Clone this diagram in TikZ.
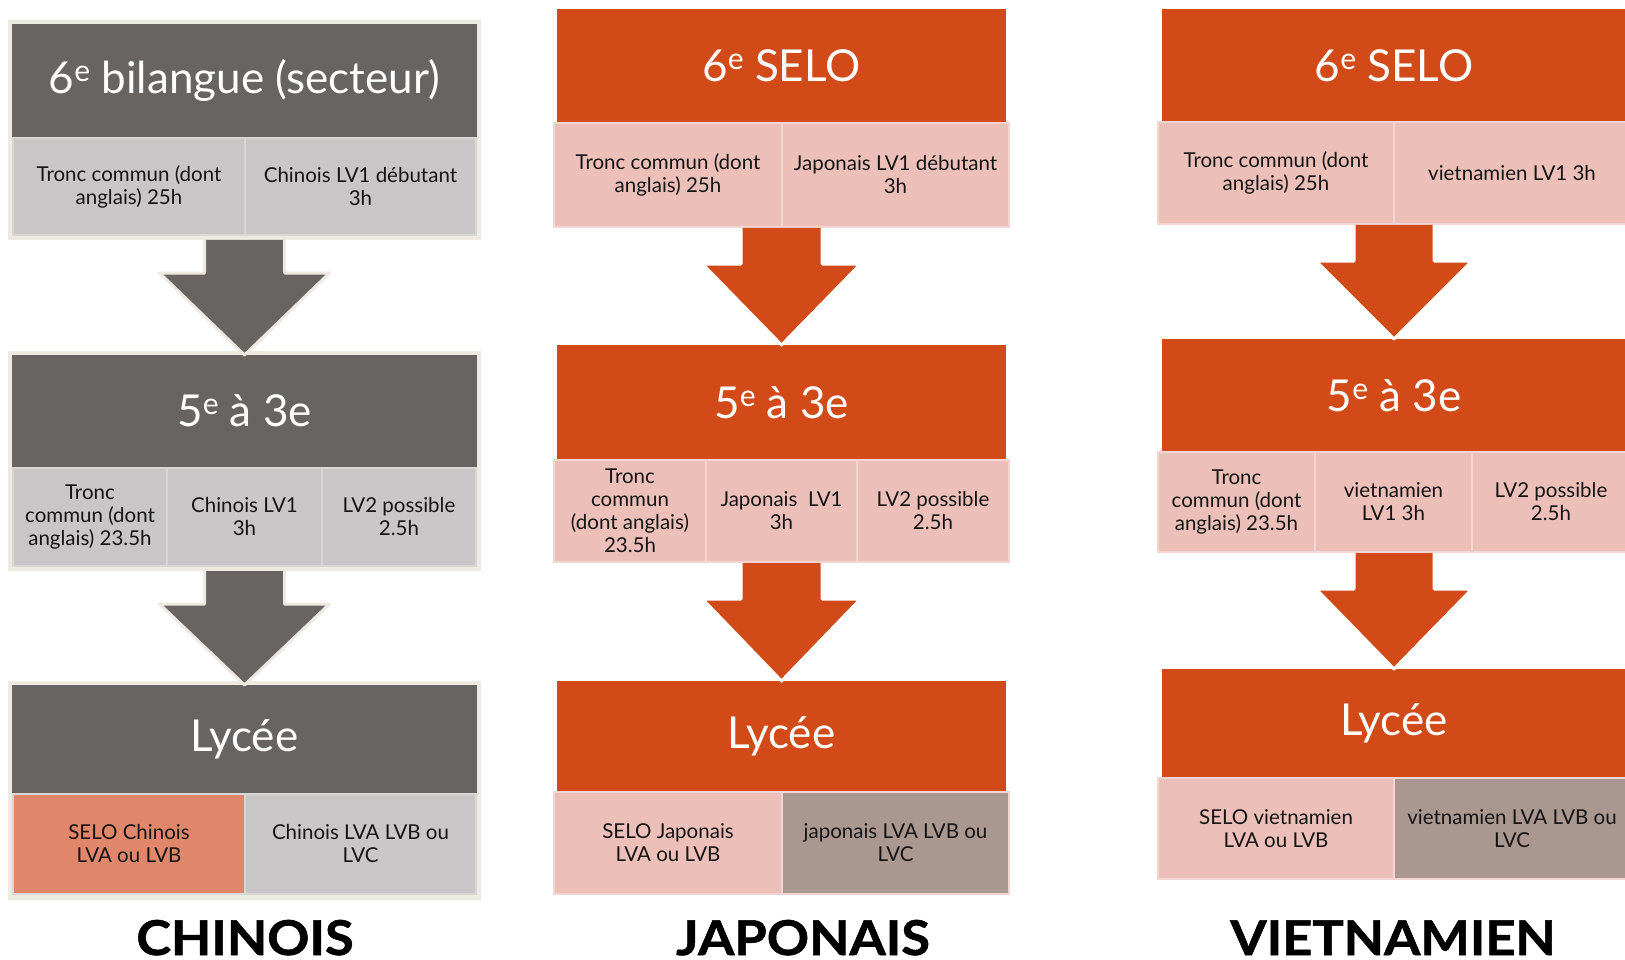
\documentclass[tikz,border=0pt]{standalone}
\usepackage{fontspec}
\setmainfont{Lato}
\newfontfamily\lblfont[FakeStretch=1.09,BoldFeatures={FakeBold=1.2}]{Lato}
\usetikzlibrary{calc}
\definecolor{dkgrey}{HTML}{686462}
\definecolor{framec}{HTML}{EEEAE2}
\definecolor{cgrey}{HTML}{C8C6C7}
\definecolor{cgreyline}{HTML}{D9D7D6}
\definecolor{orng}{HTML}{D14A18}
\definecolor{pinkc}{HTML}{ECC0B9}
\definecolor{pinkline}{HTML}{F3D6D1}
\definecolor{salmon}{HTML}{E0866A}
\definecolor{taupe}{HTML}{A99790}
\definecolor{txt}{HTML}{141414}
% box from corners
\newcommand\bx[7]{\node[#2, minimum width={#5-#3}, minimum height={#6-#4}] (#1) at ({(#3+#5)/2},{(#4+#6)/2}) {#7};}
% superscript e as in the titles
\newcommand\supe{\raisebox{0.55ex}{\fontsize{30}{30}\selectfont e}}
% block arrow: start, tip, shaft half width, head half width, shaft length, fill, outline
\newcommand\barrow[7]{%
  \fill[#6] ($(#1)+(-#3,0)$) -- ($(#1)+(-#3,#5)$) -- ($(#1)+(-#4,#5)$) -- (#2) -- ($(#1)+(#4,#5)$) -- ($(#1)+(#3,#5)$) -- ($(#1)+(#3,0)$) -- cycle;
  \draw[#7] ($(#1)+(-#3,0)$) -- ($(#1)+(-#3,#5)$) -- ($(#1)+(-#4,#5)$) -- (#2) -- ($(#1)+(#4,#5)$) -- ($(#1)+(#3,#5)$) -- ($(#1)+(#3,0)$);}
\begin{document}
\begin{tikzpicture}[x=1pt,y=-1pt,
  base/.style={inner sep=0pt, outer sep=0pt, align=center},
  frm/.style={base, fill=framec},
  ghdr/.style={base, fill=dkgrey, text=white, font=\fontsize{44}{50}\selectfont},
  ohdr/.style={base, fill=orng, text=white, font=\fontsize{44}{50}\selectfont},
  cell/.style={base, line width=2.5pt, text=txt, font=\fontsize{20.5}{23}\selectfont},
  gcell/.style={cell, fill=cgrey, draw=cgreyline},
  scell/.style={cell, fill=salmon, draw=cgreyline},
  pcell/.style={cell, fill=pinkc, draw=pinkline},
  tcell/.style={cell, fill=taupe, draw=pinkline},
  lbl/.style={inner sep=0pt, anchor=base, text=black, font=\fontsize{48}{50}\lblfont\bfseries},
  garrow/.style={fill=dkgrey},
  garrowline/.style={draw=framec, line width=3pt, line join=round},
  oarrow/.style={fill=orng},
  oarrowline/.style={draw=white, line width=3pt, line join=round}]
\clip (0,0) rectangle (1625,960);
\fill[white] (0,0) rectangle (1625,960);

% ---------------- CHINOIS ----------------
\bx{cf1}{frm}{8}{20}{481}{240}{}
\bx{ch1}{ghdr}{12}{24}{477}{137}{6\supe\ bilangue (secteur)}
\bx{cc11}{gcell}{13}{138}{245}{235}{Tronc commun (dont\\anglais) 25h}
\bx{cc12}{gcell}{245}{138}{476}{235}{Chinois LV1 débutant\\3h}

\bx{cf2}{frm}{8}{351}{481}{571}{}
\bx{ch2}{ghdr}{12}{355}{477}{467}{5\supe\ à 3e}
\bx{cc21}{gcell}{13}{468}{167}{566}{Tronc\\commun (dont\\anglais) 23.5h}
\bx{cc22}{gcell}{167}{468}{322}{566}{Chinois LV1\\3h}
\bx{cc23}{gcell}{322}{468}{476}{566}{LV2 possible\\2.5h}

\bx{cf3}{frm}{8}{681}{481}{900}{}
\bx{ch3}{ghdr}{12}{685}{477}{793}{Lycée}
\bx{cc31}{scell}{13}{794}{245}{894}{SELO Chinois\\LVA ou LVB}
\bx{cc32}{gcell}{245}{794}{476}{894}{Chinois LVA LVB ou\\LVC}

\barrow{cf1.south}{ch2.north}{40}{85}{33}{garrow}{garrowline}
\barrow{cf2.south}{ch3.north}{40}{85}{33}{garrow}{garrowline}

\node[lbl] (lc) at (245,955) {CHINOIS};

% ---------------- JAPONAIS ----------------
\bx{jh1}{ohdr}{557}{9}{1006}{123}{6\supe\ SELO}
\bx{jc11}{pcell}{554}{123}{782}{227}{Tronc commun (dont\\anglais) 25h}
\bx{jc12}{pcell}{782}{123}{1009}{227}{Japonais LV1\ débutant\\3h}
\coordinate (jb1) at (781.5,228);

\bx{jh2}{ohdr}{557}{345}{1006}{460}{5\supe\ à 3e}
\bx{jc21}{pcell}{554}{460}{706}{562}{Tronc\\commun\\(dont anglais)\\23.5h}
\bx{jc22}{pcell}{706}{460}{857}{562}{Japonais\ \ LV1\\3h}
\bx{jc23}{pcell}{857}{460}{1009}{562}{LV2 possible\\2.5h}
\coordinate (jb2) at (781.5,563);

\bx{jh3}{ohdr}{557}{681}{1006}{792}{Lycée}
\bx{jc31}{pcell}{554}{792}{782}{894}{SELO Japonais\\LVA ou LVB}
\bx{jc32}{tcell}{782}{792}{1009}{894}{japonais LVA LVB ou\\LVC}

\barrow{jb1}{jh2.north}{40.5}{79}{36}{oarrow}{oarrowline}
\barrow{jb2}{jh3.north}{40.5}{79}{36}{oarrow}{oarrowline}

\node[lbl] (lj) at (803,955) {JAPONAIS};

% ---------------- VIETNAMIEN ----------------
\bx{vh1}{ohdr}{1162}{9}{1626}{122}{6\supe\ SELO}
\bx{vc11}{pcell}{1158}{122}{1394}{224}{Tronc commun (dont\\anglais) 25h}
\bx{vc12}{pcell}{1394}{122}{1630}{224}{vietnamien LV1 3h}
\coordinate (vb1) at (1394,225);

\bx{vh2}{ohdr}{1162}{339}{1626}{452}{5\supe\ à 3e}
\bx{vc21}{pcell}{1158}{452}{1315}{552}{Tronc\\commun (dont\\anglais) 23.5h}
\bx{vc22}{pcell}{1315}{452}{1472}{552}{vietnamien\\LV1 3h}
\bx{vc23}{pcell}{1472}{452}{1630}{552}{LV2 possible\\2.5h}
\coordinate (vb2) at (1394,553);

\bx{vh3}{ohdr}{1162}{669}{1626}{778}{Lycée}
\bx{vc31}{pcell}{1158}{778}{1394}{879}{SELO vietnamien\\LVA ou LVB}
\bx{vc32}{tcell}{1394}{778}{1630}{879}{vietnamien LVA LVB ou\\LVC}

\barrow{vb1}{vh2.north}{40}{78}{36}{oarrow}{oarrowline}
\barrow{vb2}{vh3.north}{40}{78}{36}{oarrow}{oarrowline}

\node[lbl] (lv) at (1393,955) {VIETNAMIEN};
\end{tikzpicture}
\end{document}
